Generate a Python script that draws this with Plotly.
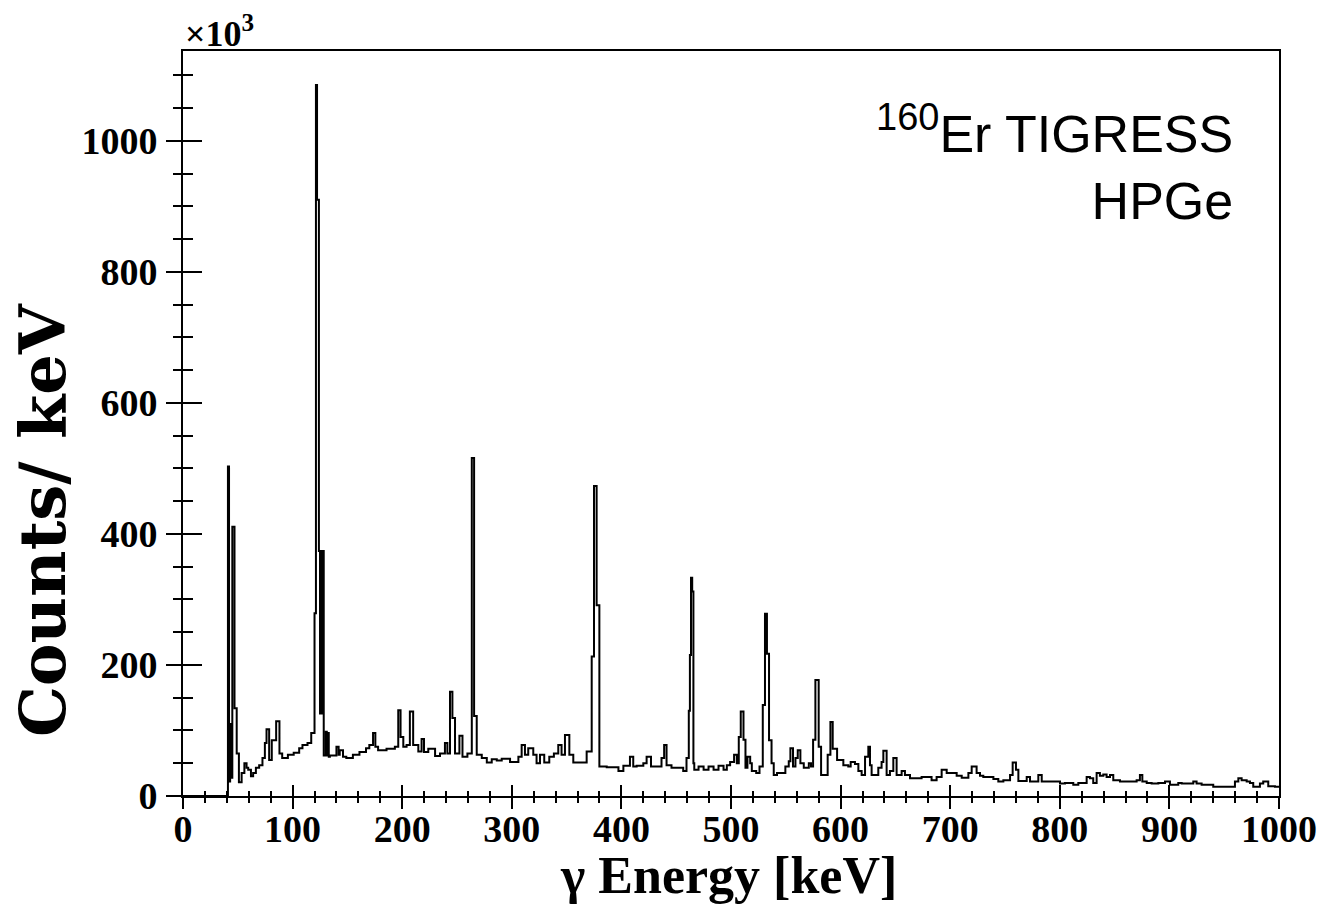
import plotly.graph_objects as go

# Step histogram: left edge of each step (keV) and height (x10^3 counts/keV)
energy_keV = [
    0, 41, 42, 43, 44, 45, 47, 49, 51, 53.5, 56, 58, 59.5, 62, 64, 66.5, 69.5, 72.5, 74.7, 76.2,
    78.6, 81, 85, 88, 90.5, 95.7, 101, 106, 109, 113.6, 117,
    120, 121.3, 122.3, 124, 125, 125.8, 126.8, 127.6, 128.4, 130.3, 131.2, 132, 133,
    134, 140, 142, 143, 146, 149, 155, 161, 167, 170, 173.4, 175.5, 178, 185.7, 193.3,
    196.4, 198.5, 201, 204, 207, 210, 214.7, 217.7, 219.9, 223.8, 230, 234.5, 239, 241.2,
    243.6, 245.8, 248.2, 252.2, 255, 259.5, 263.5, 265.6, 268, 272.6, 277.2, 281.7, 286.3,
    290.8, 298.4, 306, 309, 312, 315, 319.6, 322.6, 325.7, 329.6, 334.2, 338.4, 342.4, 345.4,
    348.5, 352.5, 356.1, 368.3, 372.9, 375, 377.4, 379.9, 386.6, 397.3, 401.8, 407.8, 410.8,
    413.9, 420, 423, 427, 436.6, 439, 441.2, 445.7, 456.4, 459.4, 461.5, 462.5, 463.5, 464.6,
    465.7, 466.5, 470.4, 475, 479.5, 484.1, 488.6, 493.2, 496.2, 499.2, 502.8, 505.3, 507.1,
    508.9, 511.4, 513.2, 515, 517.5, 519, 523, 526, 529, 531, 532.8, 534.7, 537, 539, 542,
    549.6, 552.7, 554.2, 556.6, 558.8, 560.9, 563.3, 566.4, 571, 573, 574.9, 577, 580, 582.2,
    588.2, 590.7, 592.8, 596.8, 602.5, 607, 609.2, 613.1, 616.2, 619.2, 622.3, 625.3, 626.8,
    628.3, 634.4, 637.4, 639, 642, 645, 648.1, 651.1, 655.7, 658.7, 663.3, 673.9, 683, 687.6,
    692.2, 696.8, 705.9, 710.5, 716.6, 719.6, 724.1, 727.2, 730.2, 739.4, 743.9, 748.5, 754.6,
    757, 760, 762.2, 769.8, 772.8, 780.4, 783.5, 800.2, 804.7, 812.3, 816.9, 824.5, 827.5,
    830.5, 833.6, 836.6, 839.7, 842.7, 845.8, 848.8, 854.9, 870.1, 873.1, 875.3, 879.3, 883.8,
    889.9, 896, 900.5, 908.1, 911.2, 921.8, 924.8, 929.4, 940, 959.8, 962.9, 965.9, 970.5,
    973.5, 976.5, 982.6, 985.6, 990.2, 996.3, 1000,
]
counts_k = [
    0, 503, 22, 110, 28, 411, 134, 65, 21, 35, 50, 43, 40, 30, 35, 43, 47, 58, 81, 102,
    55, 85, 114, 65, 58, 63, 66, 73, 78, 81, 96,
    279, 1085, 910, 374, 126, 374, 126, 374, 62, 98, 62, 96, 60,
    62, 75, 63, 70, 60, 58, 63, 67, 73, 78, 96, 75, 70, 72, 75,
    131, 90, 75, 78, 129, 78, 68, 87, 67, 72, 61, 65, 81, 65,
    159, 119, 65, 92, 60, 65, 516, 122, 63, 58, 51, 56, 54,
    57, 52, 60, 78, 63, 73, 63, 50, 63, 51, 60, 65, 78, 63,
    93, 63, 51, 68, 213, 473, 291, 45, 44, 38, 46, 60, 45,
    46, 50, 60, 45, 58, 78, 47, 43, 38, 58, 130, 215, 333, 312,
    50, 40, 45, 40, 45, 40, 46, 40, 47, 52, 63, 50, 90,
    129, 86, 43, 60, 50, 38, 35, 45, 139, 278, 217, 85, 50, 32, 35,
    45, 53, 73, 45, 58, 70, 50, 43, 50, 45, 86, 177, 75, 32,
    63, 113, 72, 55, 47, 45, 52, 49, 38, 32, 60, 75, 47,
    32, 43, 52, 69, 32, 38, 58, 32, 38, 32, 27, 29, 24, 29,
    40, 35, 31, 28, 35, 45, 35, 31, 29, 26, 22, 24, 32,
    51, 40, 23, 29, 22, 32, 22, 19, 20, 17, 20, 29, 27,
    20, 35, 31, 33, 29, 32, 24, 22, 24, 32, 22, 20, 19,
    20, 22, 17, 20, 19, 22, 19, 17, 14, 22, 27, 24, 22,
    20, 14, 19, 22, 15, 14, 14,
]

x_ticks = [0, 100, 200, 300, 400, 500, 600, 700, 800, 900, 1000]
y_ticks = [0, 200, 400, 600, 800, 1000]

x_range = [0, 1000]
y_range = [0, 1137]

serif = "Liberation Serif"
sans = "Liberation Sans"

fig = go.Figure()
fig.add_trace(go.Scatter(
    x=energy_keV, y=counts_k, mode="lines", line=dict(shape="hv", color="black", width=2),
    showlegend=False, hoverinfo="skip",
))
# invisible trace for the overlay axes carrying the inner half of the ticks
fig.add_trace(go.Scatter(x=[None], y=[None], xaxis="x2", yaxis="y2", showlegend=False))

tickfont = dict(family=serif, size=38, color="black", weight="bold")

fig.update_layout(
    width=1322, height=915,
    margin=dict(l=183, r=43, t=51, b=119, autoexpand=False),
    paper_bgcolor="white", plot_bgcolor="white",
    xaxis=dict(
        range=x_range, tickvals=x_ticks, ticktext=[str(v) for v in x_ticks],
        showgrid=False, zeroline=False, showline=True, linecolor="black", linewidth=2,
        mirror=True, ticks="outside", ticklen=11, tickwidth=2, tickcolor="black",
        minor=dict(ticks="outside", ticklen=5, tickwidth=2, tickcolor="black", dtick=20, showgrid=False),
        tickfont=tickfont, ticklabelstandoff=-13, automargin=False,
    ),
    yaxis=dict(
        range=y_range, tickvals=y_ticks, ticktext=[str(v) for v in y_ticks],
        showgrid=False, zeroline=False, showline=True, linecolor="black", linewidth=2,
        mirror=True, ticks="outside", ticklen=15, tickwidth=2, tickcolor="black",
        minor=dict(ticks="outside", ticklen=8, tickwidth=2, tickcolor="black", dtick=50, showgrid=False),
        tickfont=tickfont, ticklabelstandoff=1, automargin=False,
    ),
    xaxis2=dict(
        overlaying="x", anchor="y", side="bottom", range=x_range, tickvals=x_ticks,
        showticklabels=False, showgrid=False, zeroline=False, showline=False,
        ticks="inside", ticklen=11, tickwidth=2, tickcolor="black", automargin=False,
        minor=dict(ticks="inside", ticklen=5, tickwidth=2, tickcolor="black", dtick=20, showgrid=False),
    ),
    yaxis2=dict(
        overlaying="y", anchor="x", side="left", range=y_range, tickvals=y_ticks,
        showticklabels=False, showgrid=False, zeroline=False, showline=False,
        ticks="inside", ticklen=19, tickwidth=2, tickcolor="black", automargin=False,
        minor=dict(ticks="inside", ticklen=10, tickwidth=2, tickcolor="black", dtick=50, showgrid=False),
    ),
    annotations=[
        dict(text="×10<sup>3</sup>", xref="paper", yref="paper", x=0, y=0.993,
             xanchor="left", yanchor="bottom", showarrow=False,
             font=dict(family=serif, size=36, color="black", weight="bold")),
        dict(text="Counts/ keV", xref="paper", yref="paper", x=-0.128, y=0.37,
             xanchor="center", yanchor="middle", textangle=-90, showarrow=False,
             font=dict(family="DejaVu Serif", size=64, color="black", weight="bold")),
        dict(text="γ Energy [keV]", xref="paper", yref="paper", x=0.498, y=-0.107,
             xanchor="center", yanchor="middle", showarrow=False,
             font=dict(family=serif, size=52, color="black", weight="bold")),
        dict(text="<sup><span style='font-size:38px'>160</span></sup>Er TIGRESS<br>HPGe",
             xref="paper", yref="paper", x=0.96, y=0.942,
             xanchor="right", yanchor="top", align="right", showarrow=False,
             font=dict(family=sans, size=52, color="black")),
    ],
)

fig.write_html("out.html")
